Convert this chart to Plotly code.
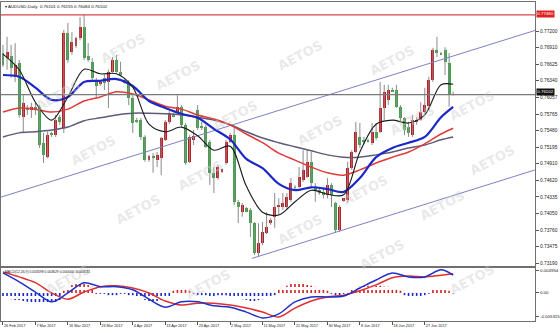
import plotly.graph_objects as go
import pandas as pd

# ---------------- data ----------------
dates = pd.bdate_range("2017-02-26", "2017-07-05", freq="C",
                       weekmask="Sun Mon Tue Wed Thu Fri")

opens = [.7682,.7673,.7677,.7641,.7665,.7571,.7587,.7583,.7589,.7589,
         .7527,.7502,.7544,.7540,.7571,.7552,.7717,.7684,.7694,.7708,
         .7727,.7677,.7667,.7632,.7629,.7639,.7632,.7649,.7670,.7649,
         .7635,.7630,.7604,.7565,.7566,.7537,.7497,.7504,.7497,.7501,
         .7532,.7563,.7575,.7578,.7589,.7558,.7494,.7532,.7583,.7556,
         .7554,.7528,.7475,.7466,.7476,.7492,.7528,.7540,.7425,.7407,
         .7414,.7411,.7388,.7336,.7354,.7371,.7388,.7399,.7416,.7416,
         .7416,.7428,.7450,.7450,.7463,.7468,.7494,.7450,.7445,.7442,
         .7437,.7454,.7423,.7376,.7428,.7428,.7483,.7511,.7537,.7532,
         .7532,.7527,.7546,.7546,.7587,.7601,.7618,.7618,.7589,.7570,
         .7554,.7540,.7563,.7566,.7580,.7590,.7635,.7687,.7682,.7687,
         .7665,.76101]
highs = [.7696,.7710,.7696,.7699,.7670,.7609,.7592,.7596,.7596,.7592,
         .7544,.7546,.7546,.7575,.7575,.7722,.7734,.7718,.7710,.7744,
         .7748,.7699,.7673,.7639,.7632,.7644,.7653,.7675,.7679,.7667,
         .7637,.7635,.7609,.7570,.7570,.7540,.7506,.7509,.7511,.7537,
         .7566,.7582,.7578,.7609,.7592,.7561,.7540,.7549,.7592,.7563,
         .7558,.7532,.7485,.7489,.7482,.7532,.7544,.7554,.7428,.7423,
         .7416,.7414,.7390,.7388,.7390,.7407,.7397,.7440,.7431,.7440,
         .7440,.7466,.7454,.7485,.7514,.7514,.7511,.7457,.7449,.7449,
         .7466,.7457,.7425,.7419,.7431,.7494,.7514,.7563,.7561,.7537,
         .7534,.7561,.7561,.7632,.7627,.7627,.7622,.7627,.7592,.7571,
         .7563,.7575,.7571,.7597,.7622,.7641,.7691,.7710,.7684,.7692,
         .7682,.76155]
lows = [.7658,.7653,.7639,.7632,.7570,.7544,.7575,.7570,.7575,.7518,
        .7492,.7500,.7537,.7537,.7558,.7544,.7665,.7679,.7691,.7704,
        .7670,.7667,.7635,.7604,.7625,.7618,.7587,.7648,.7648,.7642,
        .7629,.7592,.7544,.7561,.7532,.7494,.7494,.7475,.7485,.7471,
        .7530,.7559,.7571,.7575,.7554,.7489,.7492,.7523,.7549,.7549,
        .7518,.7454,.7440,.7463,.7475,.7489,.7527,.7419,.7388,.7399,
        .7407,.7364,.7333,.7330,.7350,.7369,.7385,.7380,.7402,.7411,
        .7411,.7425,.7445,.7449,.7459,.7466,.7450,.7425,.7437,.7431,
        .7431,.7416,.7371,.7373,.7425,.7423,.7480,.7509,.7518,.7525,
        .7527,.7523,.7532,.7544,.7566,.7592,.7615,.7587,.7563,.7540,
        .7537,.7537,.7558,.7565,.7578,.7583,.7632,.7675,.7679,.7644,
        .7589,.76084]
closes = [.7661,.7684,.7656,.7661,.7575,.7596,.7583,.7589,.7585,.7523,
          .7506,.7540,.7540,.7566,.7563,.7717,.7670,.7701,.7708,.7727,
          .7673,.7670,.7639,.7625,.7632,.7630,.7649,.7670,.7649,.7644,
          .7630,.7604,.7561,.7563,.7537,.7497,.7504,.7502,.7506,.7535,
          .7563,.7578,.7573,.7589,.7558,.7492,.7537,.7539,.7552,.7554,
          .7520,.7475,.7466,.7485,.7482,.7528,.7540,.7425,.7416,.7419,
          .7407,.7388,.7336,.7354,.7373,.7381,.7393,.7416,.7418,.7423,
          .7433,.7457,.7449,.7468,.7480,.7494,.7457,.7445,.7440,.7437,
          .7454,.7437,.7376,.7416,.7431,.7483,.7511,.7546,.7523,.7528,
          .7528,.7546,.7535,.7587,.7615,.7618,.7615,.7589,.7570,.7549,
          .7544,.7566,.7566,.7580,.7592,.7635,.7687,.7682,.7679,.7667,
          .7609,.76102]

# moving averages, read every 4 bars
ma_idx = [0,4,8,12,16,20,24,28,32,36,40,44,48,52,56,60,64,68,72,76,80,84,88,92,96,100,104,108,111]
ma_black = [.7680,.7653,.7597,.7566,.7606,.7654,.7646,.7646,.7623,.7559,.7546,.7554,.7539,.7514,.7521,
            .7452,.7407,.7402,.7425,.7445,.7438,.7437,.7511,.7559,.7566,.7561,.7575,.7627,.7628]
ma_blue = [.7644,.7641,.7622,.7601,.7606,.7632,.7634,.7637,.7625,.7599,.7587,.7577,.7570,.7551,.7533,
           .7499,.7483,.7456,.7445,.7450,.7447,.7442,.7466,.7502,.7518,.7527,.7537,.7571,.7589]
ma_red = [.7580,.7587,.7585,.7580,.7585,.7599,.7606,.7615,.7611,.7601,.7590,.7585,.7575,.7568,.7558,
          .7542,.7527,.7509,.7497,.7485,.7475,.7471,.7480,.7492,.7502,.7511,.7525,.7542,.7552]
ma_gray = [.7537,.7544,.7546,.7549,.7554,.7565,.7570,.7575,.7578,.7578,.7577,.7575,.7571,.7566,.7558,
           .7546,.7535,.7527,.7520,.7513,.7506,.7502,.7502,.7506,.7511,.7518,.7523,.7532,.7537]

# trend channel (bar index, price)
chan_up_x = [-0.49, 131.2]
chan_up_y = [.7433, .7721]
chan_lo_x = [61.35, 131.2]
chan_lo_y = [.7327, .7480]
hlevels = [0.77480, 0.76102]

# MACD(12,26,9)
macd_line = [0.0045,0.0025,0.0002,-0.0020,0.0000,0.0023,0.0014,0.0014,0.0007,-0.0014,-0.0032,-0.0020,
             -0.0020,-0.0029,-0.0032,-0.0043,-0.0056,-0.0047,-0.0020,-0.0009,-0.0009,-0.0007,0.0011,
             0.0029,0.0045,0.0036,0.0036,0.0052,0.0040]
macd_signal = [0.0047,0.0036,0.0023,0.0000,-0.0014,0.0002,0.0014,0.0016,0.0011,0.0000,-0.0018,-0.0027,
               -0.0023,-0.0023,-0.0027,-0.0034,-0.0043,-0.0054,-0.0034,-0.0018,-0.0009,-0.0005,0.0005,
               0.0018,0.0034,0.0038,0.0036,0.0040,0.0043]
macd_hist = [-0.0009,-0.0011,-0.0014,-0.0016,-0.0016,-0.0018,-0.0020,-0.0023,-0.0023,-0.0025,-0.0025,-0.0025,
             -0.0023,-0.0020,-0.0016,
             0.0005,0.0011,0.0018,0.0023,0.0025,0.0023,0.0018,0.0014,
             -0.0002,-0.0002,-0.0002,-0.0005,-0.0005,-0.0005,-0.0002,-0.0002,-0.0005,-0.0005,-0.0007,
             -0.0011,-0.0016,-0.0018,-0.0020,-0.0018,-0.0016,-0.0011,-0.0007,
             0.0005,0.0007,0.0007,0.0007,0.0005,
             -0.0002,-0.0005,-0.0005,-0.0005,-0.0007,-0.0007,-0.0005,-0.0005,-0.0005,-0.0007,-0.0009,
             -0.0011,-0.0014,-0.0016,-0.0018,-0.0018,-0.0016,-0.0014,-0.0011,-0.0009,-0.0005,
             0.0007,0.0011,0.0016,0.0020,0.0023,0.0023,0.0020,0.0018,0.0016,0.0014,0.0011,0.0009,0.0005,
             -0.0002,-0.0005,-0.0005,-0.0002,-0.0002,
             0.0007,0.0011,0.0014,0.0016,0.0016,0.0016,0.0016,0.0016,0.0014,0.0014,0.0011,0.0009,0.0005,
             -0.0005,-0.0007,-0.0007,-0.0007,-0.0007,-0.0005,-0.0002,
             0.0007,0.0009,0.0009,0.0009,0.0005,
             -0.0001]
macd_ticks = [0.004954, 0.0, -0.005315]
macd_ticktext = ["0.004954", "0.00", "-0.005315"]

price_ticks = [0.77200,0.76910,0.76625,0.76340,0.76057,0.75765,0.75480,0.75195,
               0.74910,0.74620,0.74335,0.74050,0.73760,0.73475,0.73190]

# ---------------- figure ----------------
UP, DN = "#c8141e", "#3aa544"
n = len(opens)
idx = list(range(n))
W, H = 560, 333
FONT = "Liberation Sans"

fig = go.Figure()

# watermark
wm = [(30, 75), (95, 28), (150, 55), (200, 175), (65, 150), (300, 35), (320, 110), (235, 95),
      (420, 40), (440, 120), (365, 190), (470, 205), (520, 160), (110, 230), (300, 250),
      (410, 275), (180, 305), (500, 300), (500, 85), (40, 300)]
for (px, py) in wm:
    fig.add_annotation(x=px / W, y=1 - py / H, xref="paper", yref="paper", text="<b>AETOS</b>",
                       showarrow=False, textangle=-28,
                       font=dict(family="DejaVu Sans", size=13, color="rgba(205,205,205,0.45)"))

# wicks
wx, wy = [], []
for i in idx:
    wx += [i, i, None]
    wy += [lows[i], highs[i], None]
fig.add_trace(go.Scatter(x=wx, y=wy, mode="lines", line=dict(color="#8a8a8a", width=1),
                         hoverinfo="skip", xaxis="x", yaxis="y"))
# bodies
base = [min(o, c) for o, c in zip(opens, closes)]
hgt = [max(abs(c - o), 0.00005) for o, c in zip(opens, closes)]
cols = [UP if c >= o else DN for o, c in zip(opens, closes)]
fig.add_trace(go.Bar(x=idx, y=hgt, base=base, marker=dict(color=cols, line=dict(width=0)),
                     width=0.72, xaxis="x", yaxis="y"))

# channel
fig.add_trace(go.Scatter(x=chan_up_x, y=chan_up_y, mode="lines", line=dict(color="#7f80c2", width=1),
                         xaxis="x", yaxis="y"))
fig.add_trace(go.Scatter(x=chan_lo_x, y=chan_lo_y, mode="lines", line=dict(color="#7f80c2", width=1),
                         xaxis="x", yaxis="y"))

# MAs
for vals, col, w in [(ma_gray, "#5c5c78", 1.5), (ma_red, "#e03a3a", 1.5),
                     (ma_blue, "#1b28c8", 2.2), (ma_black, "#1a1a1a", 1.1)]:
    fig.add_trace(go.Scatter(x=ma_idx, y=vals, mode="lines",
                             line=dict(color=col, width=w, shape="spline", smoothing=0.9),
                             xaxis="x", yaxis="y"))

# horizontal levels
for lv, col in zip(hlevels, ["#d24848", "#7a7a7a"]):
    fig.add_shape(type="line", xref="x domain", x0=0, x1=1, yref="y", y0=lv, y1=lv,
                  line=dict(color=col, width=1.2))

# MACD histogram (dotted)
for sign, col in [(1, "#d42020"), (-1, "#1b28c8")]:
    hx, hy = [], []
    for i, v in enumerate(macd_hist):
        if v * sign > 0:
            hx += [i, i, None]
            hy += [0, v, None]
    fig.add_trace(go.Scatter(x=hx, y=hy, mode="lines", line=dict(color=col, width=1.6, dash="dot"),
                             xaxis="x2", yaxis="y2"))
fig.add_trace(go.Scatter(x=ma_idx, y=macd_signal, mode="lines",
                         line=dict(color="#e03030", width=1.5, shape="spline", smoothing=0.9),
                         xaxis="x2", yaxis="y2"))
fig.add_trace(go.Scatter(x=ma_idx, y=macd_line, mode="lines",
                         line=dict(color="#2030c8", width=1.5, shape="spline", smoothing=0.9),
                         xaxis="x2", yaxis="y2"))

# axes
tick_idx = list(range(0, n - 7, 8))
tick_txt = [f"{dates[i].day} {dates[i].strftime('%b %Y')}" for i in tick_idx]
xr = [-0.49, 131.2]
xdom = [0, 536 / W]
main_dom = [1 - 266 / H, 1 - 2 / H]
macd_dom = [1 - 321 / H, 1 - 268 / H]
axfont = dict(family=FONT, size=4.8, color="#222")

fig.update_layout(
    width=W, height=H, margin=dict(l=0, r=0, t=0, b=0),
    paper_bgcolor="white", plot_bgcolor="white", showlegend=False, bargap=0,
    xaxis=dict(domain=xdom, range=xr, anchor="y", showticklabels=False, showgrid=False,
               zeroline=False, showline=True, mirror=True, linecolor="#707070", linewidth=1),
    yaxis=dict(domain=main_dom, range=[0.73140, 0.77701], side="right", anchor="x",
               tickvals=price_ticks, ticktext=[f"{v:.5f}" for v in price_ticks],
               ticks="outside", ticklen=3, tickcolor="#555", tickfont=axfont,
               showgrid=False, zeroline=False, showline=True, mirror=True,
               linecolor="#707070", linewidth=1),
    xaxis2=dict(domain=xdom, range=xr, anchor="y2", matches="x", tickvals=tick_idx,
                ticktext=tick_txt, ticks="outside", ticklen=3, tickcolor="#555", tickangle=0,
                ticklabelposition="outside right", tickfont=dict(family=FONT, size=3.8, color="#222"),
                showgrid=False, zeroline=False, showline=True, mirror=True,
                linecolor="#707070", linewidth=1),
    yaxis2=dict(domain=macd_dom, range=[-0.0063, 0.0056], side="right", anchor="x2",
                tickvals=macd_ticks, ticktext=macd_ticktext, ticks="outside", ticklen=3,
                tickcolor="#555", tickfont=dict(family=FONT, size=4.4, color="#222"),
                showgrid=False, zeroline=False,
                showline=True, mirror=True, linecolor="#707070", linewidth=1),
)

# header texts
fig.add_annotation(x=0.004, y=1 - 6 / H, xref="paper", yref="paper", xanchor="left", yanchor="middle",
                   text="▾ AUDUSD,Daily  0.76101 0.76155 0.76084 0.76102", showarrow=False,
                   font=dict(family=FONT, size=4.4, color="#111"))
fig.add_annotation(x=0.004, y=1 - 272 / H, xref="paper", yref="paper", xanchor="left",
                   yanchor="middle",
                   text="MACD(12,26,9) 0.003598 0.003629 0.000000 -0.000031", showarrow=False,
                   font=dict(family=FONT, size=3.4, color="#111"))

# price boxes
for lv, bg, ys in zip(hlevels, ["#e02020", "#111111"], [1, 3]):
    fig.add_annotation(x=537 / W, y=lv, xref="paper", yref="y", xanchor="left", yanchor="middle",
                       text=f"{lv:.5f}", showarrow=False, bgcolor=bg, borderpad=0.3, yshift=ys,
                       font=dict(family=FONT, size=4.4, color="white"))

fig.write_html("out.html")
